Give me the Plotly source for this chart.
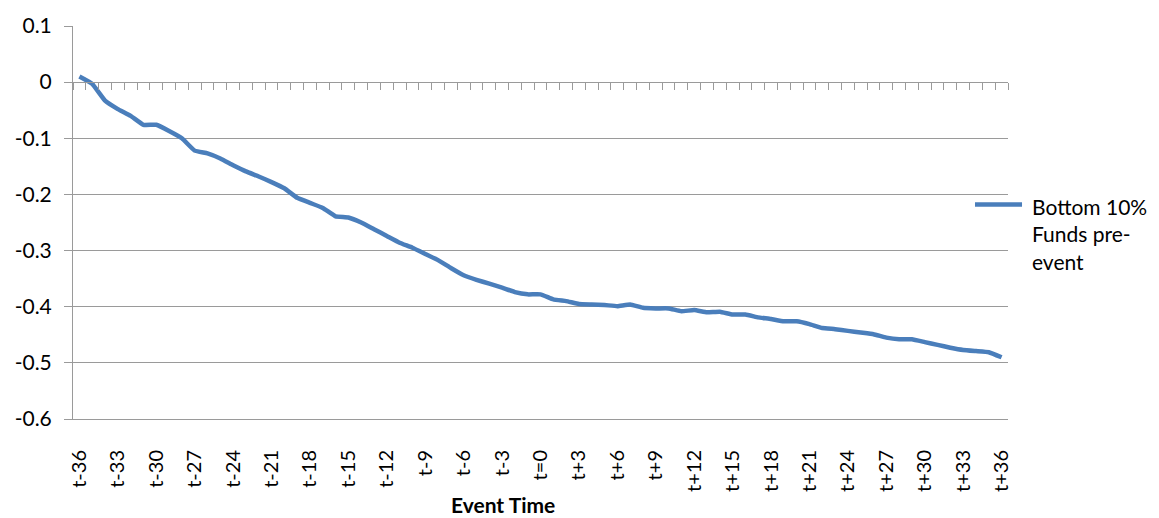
import plotly.graph_objects as go

# Event-time categories t-36 ... t=0 ... t+36
categories = [f"t{k}" if k < 0 else ("t=0" if k == 0 else f"t+{k}") for k in range(-36, 37)]

# Cumulative performance of the bottom-decile funds around the event
bottom_10 = [
    0.010, -0.003, -0.033, -0.048, -0.060, -0.076, -0.076, -0.087, -0.100, -0.122,
    -0.127, -0.136, -0.148, -0.159, -0.168, -0.178, -0.189, -0.206, -0.215, -0.224,
    -0.239, -0.241, -0.250, -0.262, -0.274, -0.286, -0.295, -0.306, -0.317, -0.331,
    -0.344, -0.352, -0.359, -0.366, -0.374, -0.378, -0.378, -0.387, -0.390, -0.395,
    -0.396, -0.397, -0.399, -0.396, -0.402, -0.403, -0.403, -0.408, -0.406, -0.410,
    -0.409, -0.414, -0.414, -0.419, -0.422, -0.426, -0.426, -0.431, -0.438, -0.440,
    -0.443, -0.446, -0.449, -0.455, -0.458, -0.458, -0.463, -0.468, -0.473, -0.477,
    -0.479, -0.481, -0.490,
]

x_tick_labels = categories[::3]
y_tick_values = [0.1, 0.0, -0.1, -0.2, -0.3, -0.4, -0.5, -0.6]
y_tick_labels = ["0.1", "0", "-0.1", "-0.2", "-0.3", "-0.4", "-0.5", "-0.6"]

series_name = "Bottom 10%<br>Funds pre-<br>event"
x_title = "Event Time"

GRID = "#9a9a9a"
LINE = "#4a7ebb"
FONT = "Lato"
LINE_W = 4.5

fig = go.Figure()
fig.add_trace(go.Scatter(
    x=categories, y=bottom_10, mode="lines", name=series_name,
    line=dict(color=LINE, width=LINE_W, shape="spline", smoothing=0.3),
    xaxis="x", yaxis="y", showlegend=False,
))
# Same series on the overlay axis, invisible, so the zero-crossing axis has its categories
fig.add_trace(go.Scatter(
    x=categories, y=bottom_10, mode="lines", showlegend=False, hoverinfo="skip",
    line=dict(color="rgba(0,0,0,0)", width=0),
    xaxis="x2", yaxis="y",
))

ymin, ymax = -0.6, 0.1

# Legend key drawn to the right of the plot area: a swatch line plus the series name
legend_key = dict(
    type="line", xref="paper", yref="paper",
    x0=0.9647, x1=1.015, y0=0.5455, y1=0.5455,
    line=dict(color=LINE, width=LINE_W),
)
legend_text = dict(
    text=series_name, xref="paper", yref="paper",
    x=1.0235, y=0.578, xanchor="left", yanchor="top", align="left",
    showarrow=False, font=dict(family=FONT, size=21, color="#000000"),
)

fig.update_layout(
    width=1159, height=518,
    margin=dict(l=73, r=151, t=23, b=99),
    paper_bgcolor="white", plot_bgcolor="white",
    font=dict(family=FONT, color="#000000"),
    showlegend=False,
    xaxis=dict(
        type="category", categoryorder="array", categoryarray=categories,
        range=[-0.5, len(categories) - 0.5],
        tickmode="array", tickvals=x_tick_labels, ticktext=x_tick_labels,
        tickangle=-90, tickfont=dict(family=FONT, size=20, color="#000000"),
        ticks="", ticklabelstandoff=22,
        showgrid=False, zeroline=False,
        showline=True, linecolor=GRID, linewidth=1,
    ),
    xaxis2=dict(
        type="category", categoryorder="array", categoryarray=categories,
        range=[-0.5, len(categories) - 0.5],
        overlaying="x", anchor="free", position=(0 - ymin) / (ymax - ymin),
        side="bottom", showticklabels=False,
        ticks="outside", tickson="boundaries", ticklen=7, tickcolor=GRID, tickwidth=1,
        dtick=1, showgrid=False, zeroline=False,
        showline=True, linecolor=GRID, linewidth=1,
    ),
    yaxis=dict(
        range=[ymin, ymax],
        tickmode="array", tickvals=y_tick_values, ticktext=y_tick_labels,
        tickfont=dict(family=FONT, size=21, color="#000000"),
        ticks="outside", ticklen=8, tickcolor=GRID, tickwidth=1, ticklabelstandoff=8,
        showgrid=True, gridcolor=GRID, gridwidth=1,
        zeroline=False, showline=True, linecolor=GRID, linewidth=1,
    ),
    shapes=[legend_key],
    annotations=[
        dict(
            text=f"<b>{x_title}</b>", xref="paper", yref="paper",
            x=(503 - 73) / 935, y=-(505 - 419) / 396, xanchor="center", yanchor="middle",
            showarrow=False, font=dict(family=FONT, size=21, color="#000000"),
        ),
        legend_text,
    ],
)

fig.write_html("out.html")
